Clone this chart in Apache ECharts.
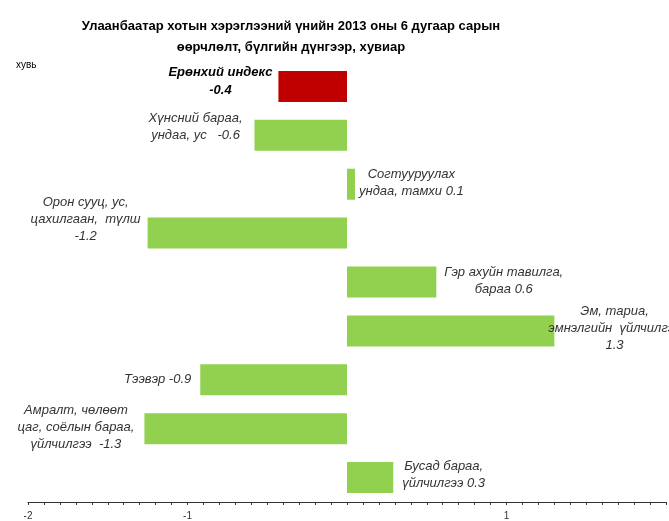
<!DOCTYPE html>
<html>
<head>
<meta charset="utf-8">
<script src="https://cdn.jsdelivr.net/npm/echarts@6/dist/echarts.min.js"></script>
<style>html,body{margin:0;padding:0;background:#fff;}#c{width:669px;height:521px;}</style>
</head>
<body>
<div id="c"></div>
<script>
// ---- data ----
var categories = [
  'Ерөнхий индекс',
  'Хүнсний бараа, ундаа, ус',
  'Согтууруулах ундаа, тамхи',
  'Орон сууц, ус, цахилгаан, түлш',
  'Гэр ахуйн тавилга, бараа',
  'Эм, тариа, эмнэлгийн үйлчилгээ',
  'Тээвэр',
  'Амралт, чөлөөт цаг, соёлын бараа, үйлчилгээ',
  'Бусад бараа, үйлчилгээ'
];
var values = [-0.43, -0.58, 0.05, -1.25, 0.56, 1.3, -0.92, -1.27, 0.29];
var labelLines = [
  ['Ерөнхий индекс', '-0.4'],
  ['Хүнсний бараа,', 'ундаа, ус   -0.6'],
  ['Согтууруулах', 'ундаа, тамхи 0.1'],
  ['Орон сууц, ус,', 'цахилгаан,  түлш', '-1.2'],
  ['Гэр ахуйн тавилга,', 'бараа 0.6'],
  ['Эм, тариа,', 'эмнэлгийн  үйлчилгээ', '1.3'],
  ['Тээвэр -0.9'],
  ['Амралт, чөлөөт', 'цаг, соёлын бараа,', 'үйлчилгээ  -1.3'],
  ['Бусад бараа,', 'үйлчилгээ 0.3']
];
var tickLabels = ['-2', '-1', '1'];
var titleText = 'Улаанбаатар хотын хэрэглээний үнийн 2013 оны 6 дугаар сарын\nөөрчлөлт, бүлгийн дүнгээр, хувиар';
var unitText = 'хувь';

// ---- styles ----
var FONT = '"Liberation Sans Narrow", "Liberation Sans", Arial, sans-serif';
var labelLayout = [
  {dist: 6, dy: -5},
  {dist: 12, dy: -8},
  {dist: 4, dy: -1},
  {dist: 7, dy: -14},
  {dist: 8, dy: -1},
  {dist: -6, dy: -2},
  {dist: 9, dy: 0},
  {dist: 10, dy: -1},
  {dist: 9, dy: -3}
];

var data = values.map(function (v, i) {
  var lay = labelLayout[i];
  var isMain = i === 0;
  return {
    value: v,
    itemStyle: {color: isMain ? '#C00000' : '#92D050'},
    label: {
      show: true,
      position: v < 0 ? 'left' : 'right',
      distance: lay.dist,
      offset: [0, lay.dy],
      formatter: function () {
        return labelLines[i].map(function (l) { return '{' + (isMain ? 'b' : 'c') + '|' + l + '}'; }).join('\n');
      },
      rich: {
        c: {align: 'center', fontFamily: FONT, fontStyle: 'italic', fontSize: 13, color: '#333', lineHeight: 17},
        b: {align: 'center', fontFamily: FONT, fontStyle: 'italic', fontWeight: 'bold', fontSize: 13, color: '#000', lineHeight: 18}
      }
    }
  };
});

var chart = echarts.init(document.getElementById('c'), null, {renderer: 'canvas'});
chart.setOption({
  animation: false,
  backgroundColor: '#fff',
  title: [
    {text: titleText, left: 286, top: 11, textAlign: 'center',
     textStyle: {fontFamily: FONT, fontSize: 13, fontWeight: 'bold', color: '#000', lineHeight: 21}},
    {text: unitText, left: 11, top: 55,
     textStyle: {fontFamily: FONT, fontSize: 10, fontWeight: 'normal', color: '#000'}}
  ],
  grid: {left: 28, right: 0, top: 62, height: 441, containLabel: false},
  xAxis: {
    type: 'value', min: -2, max: 2, interval: 0.1,
    axisLine: {show: true, onZero: false, lineStyle: {color: '#333', width: 1}},
    axisTick: {show: true, length: 3, lineStyle: {color: '#333'}},
    splitLine: {show: false},
    axisLabel: {
      fontFamily: FONT, fontSize: 10, color: '#333', margin: 9,
      formatter: function (v) {
        var r = Math.round(v);
        if (Math.abs(v - r) < 1e-6 && tickLabels.indexOf(String(r)) >= 0) return String(r);
        return '';
      }
    }
  },
  yAxis: {
    type: 'category', data: categories, inverse: true,
    axisLine: {show: false}, axisTick: {show: false}, axisLabel: {show: false}, splitLine: {show: false}
  },
  series: [{
    type: 'bar', data: data, barWidth: 31
  }]
});
</script>
</body>
</html>
